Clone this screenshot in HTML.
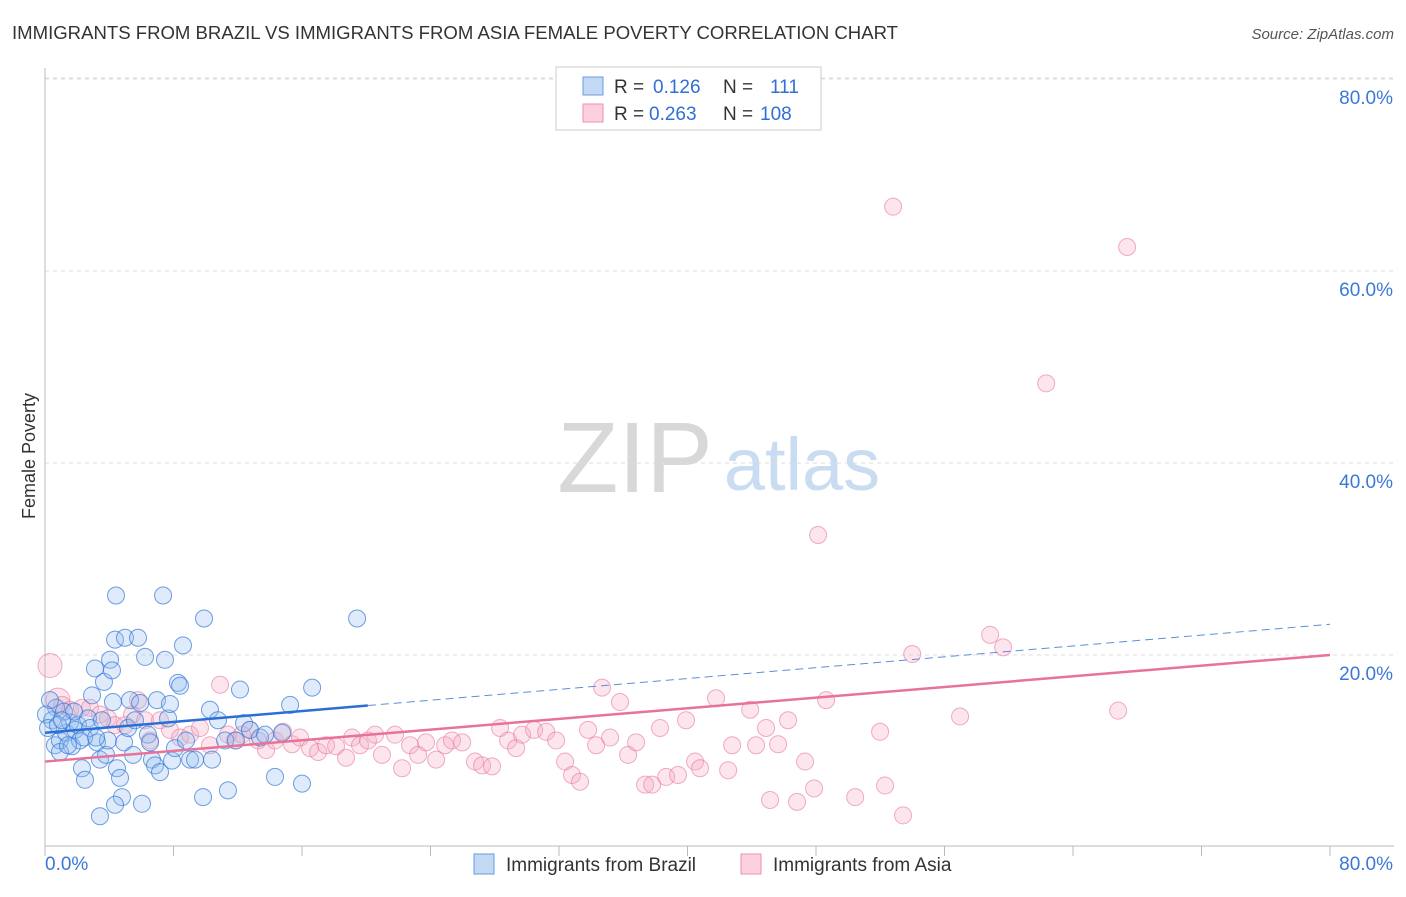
<!DOCTYPE html>
<html><head><meta charset="utf-8"><style>
body{margin:0;background:#fff;font-family:"Liberation Sans",sans-serif}
svg text{font-family:"Liberation Sans",sans-serif}
</style></head><body>
<svg id="c" width="1406" height="892" xmlns="http://www.w3.org/2000/svg">
<text x="12" y="39" font-size="18" fill="#333" textLength="886" lengthAdjust="spacingAndGlyphs">IMMIGRANTS FROM BRAZIL VS IMMIGRANTS FROM ASIA FEMALE POVERTY CORRELATION CHART</text>
<text x="1394" y="39" font-size="15" fill="#555" font-style="italic" text-anchor="end">Source: ZipAtlas.com</text>
<text x="35" y="456" font-size="18" fill="#333" transform="rotate(-90 35 456)" text-anchor="middle">Female Poverty</text>
<g><text x="635" y="492" font-size="100" fill="#d8d8d8" font-family="Liberation Serif" text-anchor="middle">ZIP</text><text x="802" y="490" font-size="74" fill="#c9dcf2" text-anchor="middle">atlas</text></g>
<g id="grid"></g>
<g id="axes"></g>
<g id="pts"></g>
<g id="lines"></g>
<g>
<rect x="556" y="67" width="265" height="63" fill="#fff" stroke="#ccc"/>
<rect x="583" y="77" width="20" height="18" fill="#c2d8f5" stroke="#6a9de0"/>
<rect x="583" y="104" width="20" height="18" fill="#fbd0dc" stroke="#ee90ab"/>
<text x="614" y="93" font-size="19" fill="#333">R =</text>
<text x="653" y="93" font-size="19" fill="#2f6fd6">0.126</text>
<text x="723" y="93" font-size="19" fill="#333">N =</text>
<text x="770" y="93" font-size="19" fill="#2f6fd6">111</text>
<text x="614" y="120" font-size="19" fill="#333">R =</text>
<text x="649" y="120" font-size="19" fill="#2f6fd6">0.263</text>
<text x="723" y="120" font-size="19" fill="#333">N =</text>
<text x="760" y="120" font-size="19" fill="#2f6fd6">108</text>
</g>
<g>
<rect x="474" y="854" width="20" height="20" fill="#c2d8f5" stroke="#6a9de0"/>
<text x="506" y="871" font-size="19" fill="#333">Immigrants from Brazil</text>
<rect x="741" y="854" width="20" height="20" fill="#fbd0dc" stroke="#ee90ab"/>
<text x="773" y="871" font-size="19" fill="#333">Immigrants from Asia</text>
</g>
</svg>
<script>
const yTicks=[20,40,60,80];
const yTickLabels=["20.0%","40.0%","60.0%","80.0%"];
const xTicks=[0,8,16,24,32,40,48,56,64,72,80];
const brazilX=[0.69,0.44,0.62,0.93,1.31,1.56,1.68,1.87,2.05,2.18,2.30,2.49,2.68,2.80,2.93,3.11,3.24,3.42,3.55,3.67,3.80,3.92,4.05,4.17,4.23,4.36,4.48,4.67,4.79,4.92,4.98,5.17,5.29,5.48,5.60,5.79,5.92,6.04,6.23,6.41,6.54,6.66,6.85,6.97,7.16,7.35,7.47,7.66,7.78,7.91,8.09,8.28,8.41,8.59,8.78,9.03,9.34,9.84,9.90,10.27,10.40,10.77,11.21,11.39,11.89,12.14,12.39,12.76,13.39,13.70,14.32,14.76,15.26,16.00,16.63,19.43,4.42,3.42,4.36,0.93,1.43,0.31,1.18,1.81,2.43,3.18,0.06,0.19,0.81,1.06];
const brazilY=[14.5,13.2,10.6,11.1,11.9,13.0,10.5,12.2,12.7,11.1,8.2,7.0,13.4,12.4,15.8,18.6,10.9,9.1,13.2,17.2,9.6,11.1,19.5,18.4,15.1,21.6,8.2,7.2,5.2,10.9,21.8,12.4,15.3,9.6,13.2,21.8,15.0,4.5,19.8,11.7,10.9,9.1,8.5,15.3,7.8,26.2,19.5,13.4,14.9,9.0,10.3,17.1,16.8,21.0,11.1,9.1,9.1,5.2,23.8,14.3,9.1,13.2,11.1,5.9,11.1,16.4,12.9,12.2,11.4,11.7,7.3,11.9,14.8,6.6,16.6,23.8,26.2,3.2,4.4,9.9,10.6,15.3,14.1,14.1,11.4,11.4,13.8,12.4,12.7,13.2];
const asiaX=[0.31,0.81,1.06,1.56,2.30,2.80,3.42,3.92,4.36,4.98,5.42,5.79,6.23,6.54,7.16,7.78,8.41,9.03,9.65,10.27,10.90,11.39,11.83,12.27,12.76,13.26,13.76,14.32,14.82,15.38,15.88,16.50,17.00,17.50,18.12,18.74,19.12,19.61,20.11,20.55,20.98,21.79,22.23,22.73,23.23,23.72,24.35,24.91,25.34,25.97,26.77,27.21,27.83,28.33,28.83,29.33,29.70,30.45,31.20,31.82,32.38,32.81,33.31,33.81,34.31,34.68,35.18,35.80,36.30,36.80,37.36,37.80,38.29,38.67,39.41,39.91,40.47,40.78,41.78,42.53,42.78,43.90,44.27,44.89,45.14,45.64,46.26,46.82,47.32,47.88,48.63,48.13,50.44,51.99,52.30,52.80,53.42,53.99,56.97,58.84,59.65,62.33,66.81,67.37];
const asiaY=[18.9,15.3,14.8,14.3,14.5,14.5,13.8,13.4,12.7,12.7,13.8,15.3,13.2,11.1,13.2,12.2,11.4,11.7,12.4,10.6,16.9,11.7,11.1,11.7,12.2,11.1,10.1,11.1,12.0,10.7,11.4,10.3,9.9,10.6,10.5,9.3,11.4,10.6,11.1,11.7,9.6,11.7,8.2,10.6,9.6,10.9,9.1,10.6,11.1,10.9,8.9,8.5,8.4,12.4,11.1,10.3,11.7,12.2,12.0,11.1,8.9,7.5,6.8,12.2,10.6,16.6,11.4,15.1,9.6,10.9,6.5,6.5,12.4,7.3,7.5,13.2,8.9,8.2,15.5,8.0,10.6,14.3,10.6,12.4,4.9,10.7,13.2,4.7,8.9,6.1,15.3,32.5,5.2,12.0,6.4,66.7,3.3,20.1,13.6,22.1,20.8,48.3,14.2,62.5];
const brazilTrend=[11.9,23.2]; const brazilSolidEnd=20.1;
const asiaTrend=[8.9,20.0];
const X=v=>45+v*(1285/80), Y=v=>847-v*9.6;
const NS="http://www.w3.org/2000/svg";
function mk(t,a,p){const e=document.createElementNS(NS,t);for(const k in a)e.setAttribute(k,a[k]);p.appendChild(e);return e;}
const grid=document.getElementById('grid'),axes=document.getElementById('axes');
mk('line',{x1:45,x2:1394,y1:Y(80)-1,y2:Y(80)-1,stroke:'#ddd','stroke-dasharray':'4,4'},grid);
yTicks.forEach((t,i)=>{const l=mk('line',{x1:45,x2:1394,y1:Y(t),y2:Y(t),stroke:'#ddd','stroke-dasharray':'4,4'},grid);


const tx=mk('text',{x:1393,y:Y(t)+25,'font-size':19,fill:'#3a78d8','text-anchor':'end'},axes);tx.textContent=yTickLabels[i];

});
mk('line',{x1:45,x2:45,y1:68,y2:846,stroke:'#bbb'},axes);
mk('line',{x1:45,x2:1394,y1:846,y2:846,stroke:'#bbb'},axes);
xTicks.forEach(t=>{const l=mk('line',{x1:X(t),x2:X(t),y1:846,y2:856,stroke:'#bbb'},axes);

});
const x0=mk('text',{x:45,y:870,'font-size':19,fill:'#3a78d8'},axes);x0.textContent="0.0%";


const x1=mk('text',{x:1393,y:870,'font-size':19,fill:'#3a78d8','text-anchor':'end'},axes);x1.textContent="80.0%";


const pts=document.getElementById('pts');
asiaX.forEach((x,i)=>{const c=mk('circle',{cx:X(x),cy:Y(asiaY[i]),r:i<2?12:8.5,fill:'rgba(246,170,194,0.3)',stroke:'rgba(232,120,155,0.6)','stroke-width':1},pts);

});
brazilX.forEach((x,i)=>{const c=mk('circle',{cx:X(x),cy:Y(brazilY[i]),r:8.5,fill:'rgba(150,188,238,0.3)',stroke:'rgba(50,120,215,0.7)','stroke-width':1},pts);

});
const lines=document.getElementById('lines');
const by=x=>brazilTrend[0]+(brazilTrend[1]-brazilTrend[0])*x/80;
let l=mk('line',{x1:X(0),y1:Y(by(0)),x2:X(brazilSolidEnd),y2:Y(by(brazilSolidEnd)),stroke:'#2b6fd6','stroke-width':2.5},lines);


l=mk('line',{x1:X(brazilSolidEnd),y1:Y(by(brazilSolidEnd)),x2:X(80),y2:Y(by(80)),stroke:'#5b8fd8','stroke-width':1,'stroke-dasharray':'8,5'},lines);


l=mk('line',{x1:X(0),y1:Y(asiaTrend[0]),x2:X(80),y2:Y(asiaTrend[1]),stroke:'#e8729a','stroke-width':2.5},lines);


</script>
</body></html>
